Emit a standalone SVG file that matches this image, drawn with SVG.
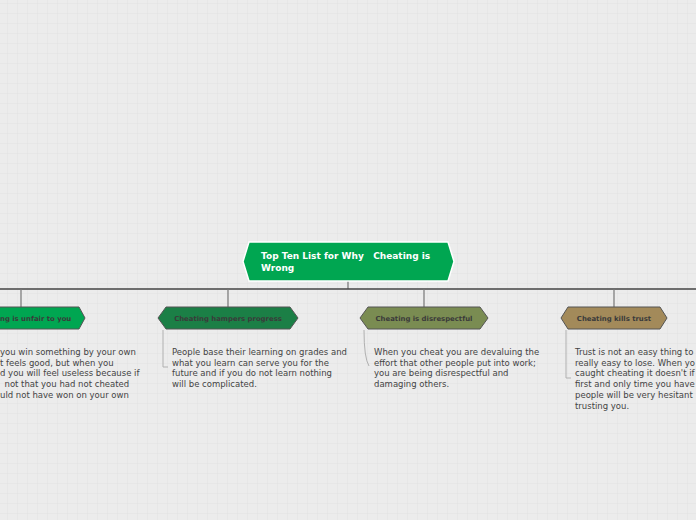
<svg xmlns="http://www.w3.org/2000/svg" width="696" height="520" viewBox="0 0 696 520">
<defs>
<pattern id="grid" x="7" y="3" width="10" height="10" patternUnits="userSpaceOnUse">
<path d="M0 0H10M0 0V10" fill="none" stroke="#e1e1e1" stroke-width="1"/>
</pattern>
</defs>
<style>
.title{font-family:"DejaVu Sans",sans-serif;font-size:9px;font-weight:bold;fill:#ffffff;white-space:pre}
.lbl{font-family:"DejaVu Sans",sans-serif;font-size:6.9px;font-weight:bold;fill:#3a3a3a;text-anchor:middle}
.lbls{font-family:"DejaVu Sans",sans-serif;font-size:6.9px;font-weight:bold;fill:#3a3a3a}
.desc{font-family:"DejaVu Sans",sans-serif;font-size:8.5px;fill:#444444}
.node{stroke:#555555;stroke-width:1}
.main{stroke:#ffffff;stroke-width:1.5}
.trunk{stroke:#444444;stroke-width:1.5;fill:none}
.drop{stroke:#777777;stroke-width:1.2;fill:none}
.brk{stroke:#b0b0b0;stroke-width:1;fill:none}
</style>
<rect width="696" height="520" fill="#ececec"/>
<rect width="696" height="520" fill="url(#grid)"/>
<g id="connectors">
<path class="drop" d="M348 281V289"/>
<path class="trunk" d="M0 289H696"/>
<path class="drop" d="M21 289V307"/>
<path class="drop" d="M228 289V307"/>
<path class="drop" d="M424 289V307"/>
<path class="drop" d="M614 289V307"/>
<path class="brk" d="M163 330V367H168"/>
<path class="brk" d="M364 330Q364 358 369 366"/>
<path class="brk" d="M566 330V378H571"/>
</g>
<g id="main">
<polygon class="main" points="243,261.5 249,242 448,242 454,261.5 448,281 249,281" fill="#00a651"/>
<text class="title" x="261" y="259">Top Ten List for Why   Cheating is</text>
<text class="title" x="261" y="270.5">Wrong</text>
</g>
<g id="node1">
<polygon class="node" points="-43,318 -37,307 79,307 85,318 79,329 -37,329" fill="#00a651"/>
<text class="lbls" x="0" y="320.5">ng is unfair to you</text>
<text class="desc" x="0" y="355">you win something by your own</text>
<text class="desc" x="0" y="365.7">t feels good, but when you</text>
<text class="desc" x="0" y="376.4">d you will feel useless because if</text>
<text class="desc" x="4.5" y="387.1">not that you had not cheated</text>
<text class="desc" x="0" y="397.8">uld not have won on your own</text>
</g>
<g id="node2">
<polygon class="node" points="158,318 166,307 290,307 298,318 290,329 166,329" fill="#1b7f46"/>
<text class="lbl" x="228" y="320.5">Cheating hampers progress</text>
<text class="desc" x="172" y="355">People base their learning on grades and</text>
<text class="desc" x="172" y="365.7">what you learn can serve you for the</text>
<text class="desc" x="172" y="376.4">future and if you do not learn nothing</text>
<text class="desc" x="172" y="387.1">will be complicated.</text>
</g>
<g id="node3">
<polygon class="node" points="360,318 368,307 480,307 488,318 480,329 368,329" fill="#7a8c52"/>
<text class="lbl" x="424" y="320.5">Cheating is disrespectful</text>
<text class="desc" x="374" y="355">When you cheat you are devaluing the</text>
<text class="desc" x="374" y="365.7">effort that other people put into work;</text>
<text class="desc" x="374" y="376.4">you are being disrespectful and</text>
<text class="desc" x="374" y="387.1">damaging others.</text>
</g>
<g id="node4">
<polygon class="node" points="561,318 568,307 660,307 667,318 660,329 568,329" fill="#a38a5a"/>
<text class="lbl" x="614" y="320.5">Cheating kills trust</text>
<text class="desc" x="575" y="355">Trust is not an easy thing to</text>
<text class="desc" x="575" y="365.7">really easy to lose. When yo</text>
<text class="desc" x="575" y="376.4">caught cheating it doesn't if</text>
<text class="desc" x="575" y="387.1">first and only time you have</text>
<text class="desc" x="575" y="397.8">people will be very hesitant</text>
<text class="desc" x="575" y="408.5">trusting you.</text>
</g>
</svg>
